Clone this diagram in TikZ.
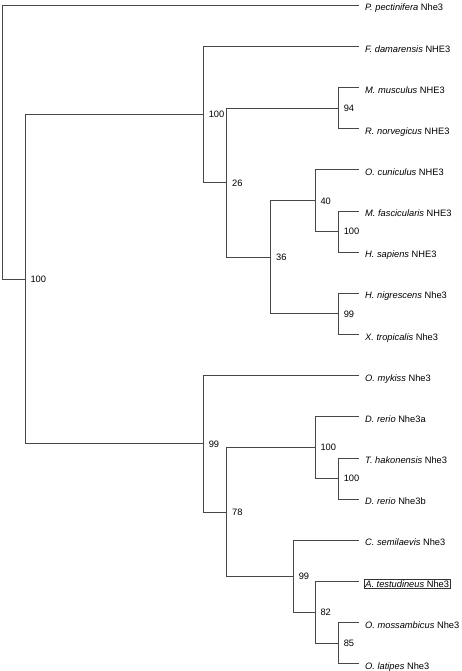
\documentclass[tikz,border=0pt]{standalone}
\usepackage{fontspec}
\setmainfont{Liberation Sans}
\begin{document}
\begin{tikzpicture}[x=1pt,y=-1pt,
  branch/.style={draw=black!72,line width=0.85pt,line cap=rect},
  leaflab/.style={anchor=base west,inner sep=0pt,font=\fontsize{9.3}{11}\selectfont},
  boxlab/.style={anchor=base west,inner sep=1pt,draw=black!80,line width=0.6pt,font=\fontsize{9.3}{11}\selectfont},
  boot/.style={anchor=west,inner sep=0pt,xshift=5.3pt,font=\fontsize{9.3}{11}\selectfont}]
\useasboundingbox (0,0) rectangle (461,671);
\def\lx{358.3}
% leaf end points
\foreach \i in {0,...,16}{
  \coordinate (l\i) at (\lx,{5.3+41.15*\i});
}
% internal nodes
\coordinate (root)  at (2.5,279.2);
\coordinate (n100a) at (25,279.2);
\coordinate (n100b) at (203.3,114.6);
\coordinate (n26)   at (226.7,182.8);
\coordinate (n94)   at (338.3,108.2);
\coordinate (n36)   at (270.7,257.3);
\coordinate (n40)   at (315,200.8);
\coordinate (n100c) at (338.3,231.6);
\coordinate (n99b)  at (338.3,313.9);
\coordinate (n99a)  at (203.3,443.8);
\coordinate (n78)   at (226.7,512.0);
\coordinate (n100d) at (315,447.7);
\coordinate (n100e) at (338.3,478.5);
\coordinate (n99c)  at (293.3,576.3);
\coordinate (n82)   at (315,612.3);
\coordinate (n85)   at (338.3,643.1);

% branches
\draw[branch] (root) |- (l0);
\draw[branch] (root) -- (n100a);
\draw[branch] (n100a) |- (n100b);
\draw[branch] (n100a) |- (n99a);
\draw[branch] (n100b) |- (l1);
\draw[branch] (n100b) |- (n26);
\draw[branch] (n26) |- (n94);
\draw[branch] (n26) |- (n36);
\draw[branch] (n94) |- (l2);
\draw[branch] (n94) |- (l3);
\draw[branch] (n36) |- (n40);
\draw[branch] (n36) |- (n99b);
\draw[branch] (n40) |- (l4);
\draw[branch] (n40) |- (n100c);
\draw[branch] (n100c) |- (l5);
\draw[branch] (n100c) |- (l6);
\draw[branch] (n99b) |- (l7);
\draw[branch] (n99b) |- (l8);
\draw[branch] (n99a) |- (l9);
\draw[branch] (n99a) |- (n78);
\draw[branch] (n78) |- (n100d);
\draw[branch] (n78) |- (n99c);
\draw[branch] (n100d) |- (l10);
\draw[branch] (n100d) |- (n100e);
\draw[branch] (n100e) |- (l11);
\draw[branch] (n100e) |- (l12);
\draw[branch] (n99c) |- (l13);
\draw[branch] (n99c) |- (n82);
\draw[branch] (n82) |- (l14);
\draw[branch] (n82) |- (n85);
\draw[branch] (n85) |- (l15);
\draw[branch] (n85) |- (l16);

% bootstrap values
\node[boot] (b100a) at (n100a) {100};
\node[boot] (b100b) at (n100b) {100};
\node[boot] (b26)   at (n26)   {26};
\node[boot] (b94)   at (n94)   {94};
\node[boot] (b36)   at (n36)   {36};
\node[boot] (b40)   at (n40)   {40};
\node[boot] (b100c) at (n100c) {100};
\node[boot] (b99b)  at (n99b)  {99};
\node[boot] (b99a)  at (n99a)  {99};
\node[boot] (b78)   at (n78)   {78};
\node[boot] (b100d) at (n100d) {100};
\node[boot] (b100e) at (n100e) {100};
\node[boot] (b99c)  at (n99c)  {99};
\node[boot] (b82)   at (n82)   {82};
\node[boot] (b85)   at (n85)   {85};

% leaf labels
\node[leaflab] (t0)  at ([xshift=6.7pt,yshift=-5.6pt]l0)  {\textit{P. pectinifera} Nhe3};
\node[leaflab] (t1)  at ([xshift=6.7pt,yshift=-5.6pt]l1)  {\textit{F. damarensis} NHE3};
\node[leaflab] (t2)  at ([xshift=6.7pt,yshift=-5.6pt]l2)  {\textit{M. musculus} NHE3};
\node[leaflab] (t3)  at ([xshift=6.7pt,yshift=-5.6pt]l3)  {\textit{R. norvegicus} NHE3};
\node[leaflab] (t4)  at ([xshift=6.7pt,yshift=-5.6pt]l4)  {\textit{O. cuniculus} NHE3};
\node[leaflab] (t5)  at ([xshift=6.7pt,yshift=-5.6pt]l5)  {\textit{M. fascicularis} NHE3};
\node[leaflab] (t6)  at ([xshift=6.7pt,yshift=-5.6pt]l6)  {\textit{H. sapiens} NHE3};
\node[leaflab] (t7)  at ([xshift=6.7pt,yshift=-5.6pt]l7)  {\textit{H. nigrescens} Nhe3};
\node[leaflab] (t8)  at ([xshift=6.7pt,yshift=-5.6pt]l8)  {\textit{X. tropicalis} Nhe3};
\node[leaflab] (t9)  at ([xshift=6.7pt,yshift=-5.6pt]l9)  {\textit{O. mykiss} Nhe3};
\node[leaflab] (t10) at ([xshift=6.7pt,yshift=-5.6pt]l10) {\textit{D. rerio} Nhe3a};
\node[leaflab] (t11) at ([xshift=6.7pt,yshift=-5.6pt]l11) {\textit{T. hakonensis} Nhe3};
\node[leaflab] (t12) at ([xshift=6.7pt,yshift=-5.6pt]l12) {\textit{D. rerio} Nhe3b};
\node[leaflab] (t13) at ([xshift=6.7pt,yshift=-5.6pt]l13) {\textit{C. semilaevis} Nhe3};
\node[boxlab]  (t14) at ([xshift=5.7pt,yshift=-5.6pt]l14) {\textit{A. testudineus} Nhe3};
\node[leaflab] (t15) at ([xshift=6.7pt,yshift=-5.6pt]l15) {\textit{O. mossambicus} Nhe3};
\node[leaflab] (t16) at ([xshift=6.7pt,yshift=-5.6pt]l16) {\textit{O. latipes} Nhe3};
\end{tikzpicture}
\end{document}
